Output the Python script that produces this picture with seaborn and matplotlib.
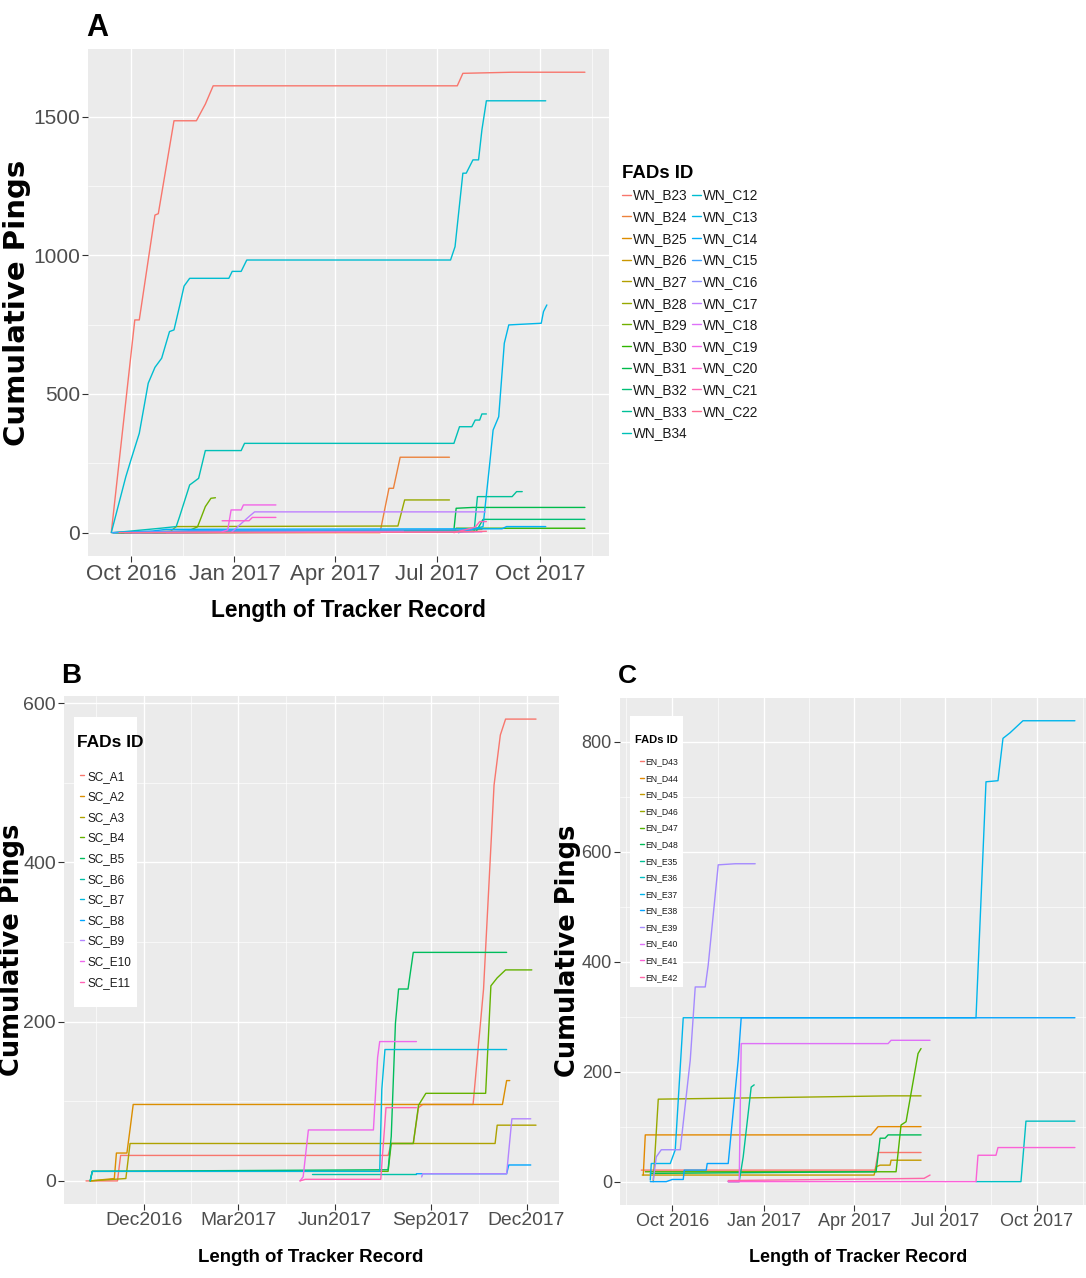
import numpy as np
import pandas as pd
import matplotlib
matplotlib.use("Agg")
import matplotlib.pyplot as plt
import matplotlib.dates as mdates
from matplotlib.ticker import MultipleLocator, FixedLocator
from matplotlib.font_manager import FontProperties
from matplotlib.lines import Line2D
from matplotlib.patches import Rectangle
import seaborn as sns

# ========== Panel A: WN FADs, (date, cumulative pings) ==========
wn_b23 = [("2016-09-13", 0), ("2016-10-04", 767), ("2016-10-08", 767), ("2016-10-22", 1145),
          ("2016-10-25", 1150), ("2016-11-08", 1485), ("2016-11-28", 1485), ("2016-12-06", 1545),
          ("2016-12-13", 1611), ("2017-07-19", 1611), ("2017-07-24", 1656), ("2017-09-06", 1660),
          ("2017-11-10", 1660)]
wn_b24 = [("2016-10-20", 0), ("2017-05-11", 0), ("2017-05-19", 160), ("2017-05-23", 160),
          ("2017-05-29", 272), ("2017-07-12", 272)]
wn_b25 = [("2016-09-14", 0), ("2016-11-01", 3), ("2017-07-12", 5)]
wn_b26 = [("2016-09-18", 0), ("2017-07-20", 8), ("2017-08-10", 12)]
wn_b27 = [("2016-10-10", 0), ("2017-06-01", 3)]
wn_b28 = [("2016-09-17", 0), ("2016-11-05", 5), ("2016-11-10", 22), ("2017-05-27", 24),
          ("2017-06-02", 118), ("2017-07-12", 118)]
wn_b29 = [("2016-09-20", 0), ("2016-11-20", 5), ("2016-11-29", 21), ("2016-12-02", 52),
          ("2016-12-06", 94), ("2016-12-11", 124), ("2016-12-15", 126)]
wn_b30 = [("2016-09-20", 0), ("2017-07-16", 2), ("2017-07-18", 16), ("2017-11-10", 16)]
wn_b31 = [("2016-09-22", 0), ("2017-07-16", 10), ("2017-07-18", 88), ("2017-08-02", 91),
          ("2017-11-10", 91)]
wn_b32 = [("2016-09-25", 0), ("2017-08-05", 5), ("2017-08-11", 48), ("2017-11-10", 48)]
wn_b33 = [("2016-09-15", 0), ("2017-08-03", 4), ("2017-08-06", 130), ("2017-09-06", 130),
          ("2017-09-10", 148), ("2017-09-15", 148)]
wn_b34 = [("2016-09-15", 0), ("2016-10-27", 16), ("2016-11-10", 22), ("2016-11-13", 58),
          ("2016-11-22", 172), ("2016-11-30", 196), ("2016-12-06", 296), ("2017-01-07", 296),
          ("2017-01-10", 322), ("2017-07-16", 322), ("2017-07-21", 382), ("2017-08-01", 382),
          ("2017-08-04", 406), ("2017-08-08", 406), ("2017-08-10", 428), ("2017-08-14", 428)]
wn_c12 = [("2016-09-13", 0), ("2016-09-26", 202), ("2016-10-01", 268), ("2016-10-08", 358),
          ("2016-10-16", 539), ("2016-10-22", 596), ("2016-10-28", 629), ("2016-11-04", 725),
          ("2016-11-08", 731), ("2016-11-13", 817), ("2016-11-17", 889), ("2016-11-22", 917),
          ("2016-12-27", 917), ("2016-12-30", 942), ("2017-01-07", 942), ("2017-01-12", 983),
          ("2017-07-13", 983), ("2017-07-17", 1031), ("2017-07-24", 1296), ("2017-07-27", 1296),
          ("2017-08-02", 1344), ("2017-08-07", 1344), ("2017-08-10", 1452), ("2017-08-14", 1557),
          ("2017-10-06", 1557)]
wn_c13 = [("2017-07-20", 0), ("2017-08-11", 22), ("2017-08-17", 250), ("2017-08-20", 370),
          ("2017-08-25", 418), ("2017-08-30", 683), ("2017-09-03", 749), ("2017-10-02", 755),
          ("2017-10-04", 797), ("2017-10-07", 821)]
wn_c14 = [("2016-09-14", 0), ("2016-10-20", 6), ("2016-11-01", 12), ("2017-08-28", 14),
          ("2017-09-01", 22), ("2017-10-06", 22)]
wn_c15 = [("2016-09-14", 0), ("2016-12-01", 8), ("2017-08-01", 10)]
wn_c16 = [("2016-10-01", 0), ("2017-06-01", 5)]
wn_c17 = [("2016-12-29", 0), ("2017-01-14", 58), ("2017-01-19", 75), ("2017-08-13", 75)]
wn_c18 = [("2016-11-01", 0), ("2017-08-10", 3)]
wn_c19 = [("2016-09-25", 0), ("2016-12-20", 2), ("2016-12-26", 10), ("2016-12-29", 82),
          ("2017-01-07", 82), ("2017-01-09", 100), ("2017-02-07", 100)]
wn_c20 = [("2016-12-21", 43), ("2017-01-14", 43), ("2017-01-17", 55), ("2017-02-07", 55)]
wn_c21 = [("2017-07-16", 0), ("2017-08-04", 20), ("2017-08-08", 40), ("2017-08-14", 40)]
wn_c22 = [("2016-09-20", 0), ("2017-07-10", 2), ("2017-08-14", 5)]

wn_ids = ["WN_B23", "WN_B24", "WN_B25", "WN_B26", "WN_B27", "WN_B28", "WN_B29", "WN_B30",
          "WN_B31", "WN_B32", "WN_B33", "WN_B34", "WN_C12", "WN_C13", "WN_C14", "WN_C15",
          "WN_C16", "WN_C17", "WN_C18", "WN_C19", "WN_C20", "WN_C21", "WN_C22"]
wn_series = [wn_b23, wn_b24, wn_b25, wn_b26, wn_b27, wn_b28, wn_b29, wn_b30, wn_b31, wn_b32,
             wn_b33, wn_b34, wn_c12, wn_c13, wn_c14, wn_c15, wn_c16, wn_c17, wn_c18, wn_c19,
             wn_c20, wn_c21, wn_c22]

# ========== Panel B: SC FADs ==========
sc_a1 = [("2016-10-07", 0), ("2016-11-06", 0), ("2016-11-09", 32), ("2017-07-22", 32),
         ("2017-07-25", 47), ("2017-08-15", 47), ("2017-08-20", 92), ("2017-08-24", 96),
         ("2017-10-11", 96), ("2017-10-21", 241), ("2017-10-31", 497), ("2017-11-06", 560),
         ("2017-11-11", 580), ("2017-12-10", 580)]
sc_a2 = [("2016-10-11", 0), ("2016-11-03", 3), ("2016-11-05", 35), ("2016-11-15", 35),
         ("2016-11-18", 65), ("2016-11-21", 96), ("2017-11-08", 96), ("2017-11-12", 126),
         ("2017-11-15", 126)]
sc_a3 = [("2016-10-11", 0), ("2016-11-14", 3), ("2016-11-18", 47), ("2017-11-01", 47),
         ("2017-11-03", 70), ("2017-12-10", 70)]
sc_b4 = [("2016-10-11", 0), ("2016-10-13", 12), ("2017-07-22", 12), ("2017-07-25", 47),
         ("2017-08-15", 47), ("2017-08-20", 95), ("2017-08-27", 110), ("2017-10-23", 110),
         ("2017-10-28", 245), ("2017-11-03", 255), ("2017-11-11", 265), ("2017-12-06", 265)]
sc_b5 = [("2016-10-11", 0), ("2016-10-13", 12), ("2017-07-22", 14), ("2017-07-25", 56),
         ("2017-07-29", 198), ("2017-08-01", 241), ("2017-08-10", 241), ("2017-08-15", 287),
         ("2017-11-12", 287)]
sc_b6 = [("2017-05-10", 9), ("2017-08-18", 9)]
sc_b7 = [("2016-10-11", 0), ("2016-10-13", 12), ("2017-07-14", 12), ("2017-07-16", 115),
         ("2017-07-19", 165), ("2017-11-12", 165)]
sc_b8 = [("2017-08-18", 9), ("2017-11-12", 9), ("2017-11-14", 20), ("2017-12-05", 20)]
sc_b9 = [("2017-08-23", 5), ("2017-08-24", 9), ("2017-11-12", 9), ("2017-11-17", 78),
         ("2017-12-05", 78)]
sc_e10 = [("2017-04-29", 0), ("2017-05-02", 5), ("2017-05-07", 64), ("2017-07-08", 64),
          ("2017-07-12", 155), ("2017-07-14", 175), ("2017-08-18", 175)]
sc_e11 = [("2017-04-29", 0), ("2017-05-04", 2), ("2017-07-15", 2), ("2017-07-20", 92),
          ("2017-08-18", 92)]

sc_ids = ["SC_A1", "SC_A2", "SC_A3", "SC_B4", "SC_B5", "SC_B6", "SC_B7", "SC_B8", "SC_B9",
          "SC_E10", "SC_E11"]
sc_series = [sc_a1, sc_a2, sc_a3, sc_b4, sc_b5, sc_b6, sc_b7, sc_b8, sc_b9, sc_e10, sc_e11]

# ========== Panel C: EN FADs ==========
en_d43 = [("2016-08-31", 21), ("2017-04-22", 21), ("2017-04-25", 53), ("2017-06-07", 53)]
en_d44 = [("2016-09-02", 12), ("2016-09-04", 85), ("2017-04-18", 85), ("2017-04-25", 100),
          ("2017-06-07", 100)]
en_d45 = [("2016-09-01", 12), ("2017-04-21", 12), ("2017-04-23", 27), ("2017-04-27", 30),
          ("2017-05-07", 30), ("2017-05-08", 39), ("2017-06-07", 39)]
en_d46 = [("2016-09-12", 0), ("2016-09-17", 150), ("2016-12-07", 152), ("2017-05-08", 156),
          ("2017-06-07", 156)]
en_d47 = [("2016-09-04", 18), ("2017-05-13", 18), ("2017-05-18", 103), ("2017-05-23", 109),
          ("2017-06-04", 233), ("2017-06-07", 242)]
en_d48 = [("2016-09-09", 15), ("2017-04-23", 18), ("2017-04-27", 79), ("2017-05-02", 79),
          ("2017-05-05", 85), ("2017-06-07", 85)]
en_e35 = [("2016-11-26", 0), ("2016-12-07", 0), ("2016-12-11", 45), ("2016-12-19", 172),
          ("2016-12-22", 176)]
en_e36 = [("2017-08-01", 0), ("2017-09-15", 0), ("2017-09-20", 110), ("2017-11-08", 110)]
en_e37 = [("2016-09-09", 3), ("2016-09-10", 33), ("2016-09-29", 33), ("2016-10-04", 58),
          ("2016-10-12", 298), ("2017-08-01", 298), ("2017-08-11", 727), ("2017-08-23", 729),
          ("2017-08-28", 806), ("2017-09-04", 816), ("2017-09-17", 838), ("2017-11-08", 838)]
en_e38 = [("2016-09-09", 0), ("2016-09-25", 0), ("2016-10-01", 4), ("2016-10-12", 4),
          ("2016-10-13", 21), ("2016-11-04", 21), ("2016-11-05", 33), ("2016-11-26", 33),
          ("2016-12-06", 221), ("2016-12-09", 298), ("2017-11-08", 298)]
en_e39 = [("2016-09-12", 3), ("2016-09-15", 45), ("2016-09-20", 58), ("2016-10-09", 58),
          ("2016-10-19", 221), ("2016-10-24", 354), ("2016-11-03", 354), ("2016-11-06", 394),
          ("2016-11-16", 576), ("2016-12-03", 578), ("2016-12-23", 578)]
en_e40 = [("2016-11-26", 0), ("2016-12-07", 0), ("2016-12-09", 251), ("2017-05-05", 251),
          ("2017-05-08", 257), ("2017-06-16", 257)]
en_e41 = [("2016-11-26", 0), ("2017-08-01", 0), ("2017-08-03", 48), ("2017-08-21", 48),
          ("2017-08-23", 62), ("2017-11-08", 62)]
en_e42 = [("2016-11-26", 2), ("2017-06-10", 6), ("2017-06-16", 12)]

en_ids = ["EN_D43", "EN_D44", "EN_D45", "EN_D46", "EN_D47", "EN_D48", "EN_E35", "EN_E36",
          "EN_E37", "EN_E38", "EN_E39", "EN_E40", "EN_E41", "EN_E42"]
en_series = [en_d43, en_d44, en_d45, en_d46, en_d47, en_d48, en_e35, en_e36, en_e37, en_e38,
             en_e39, en_e40, en_e41, en_e42]

# ========== Style ==========
sns.set_theme(style="darkgrid", rc={"axes.facecolor": "#EBEBEB", "grid.color": "white",
                                    "figure.facecolor": "white"})
SANS = "Liberation Sans"
plt.rcParams["font.family"] = [SANS, "DejaVu Sans"]


def hue_pal(n, c=100, l=65):
    """ggplot2 default discrete colour scale (HCL hues starting at 15 degrees)."""
    hues = np.linspace(15, 375, n + 1)[:-1] % 360
    xn, yn, zn = 95.047, 100.0, 108.883
    un = 4 * xn / (xn + 15 * yn + 3 * zn)
    vn = 9 * yn / (xn + 15 * yn + 3 * zn)
    out = []
    for h in hues:
        u, v = c * np.cos(np.deg2rad(h)), c * np.sin(np.deg2rad(h))
        Y = yn * ((l + 16) / 116) ** 3
        up, vp = u / (13 * l) + un, v / (13 * l) + vn
        X = Y * 9 * up / (4 * vp)
        Z = Y * (12 - 3 * up - 20 * vp) / (4 * vp)
        X, Y, Z = X / 100, Y / 100, Z / 100
        rgb = [3.2404542 * X - 1.5371385 * Y - 0.4985314 * Z,
               -0.9692660 * X + 1.8760108 * Y + 0.0415560 * Z,
               0.0556434 * X - 0.2040259 * Y + 1.0572252 * Z]
        rgb = [12.92 * t if t <= 0.0031308 else 1.055 * t ** (1 / 2.4) - 0.055 for t in rgb]
        out.append(tuple(min(max(t, 0), 1) for t in rgb))
    return out


def to_frame(ids, series):
    frames = []
    for sid, pts in zip(ids, series):
        d = pd.DataFrame(pts, columns=["date", "pings"])
        d["date"] = pd.to_datetime(d["date"])
        d["id"] = sid
        frames.append(d)
    return pd.concat(frames, ignore_index=True)


W, H = 1086, 1278
fig = plt.figure(figsize=(W / 100, H / 100), dpi=100)


def fx(x):
    return x / W


def fy(y):
    return 1 - y / H


def px_axes(l, t, r, b):
    return fig.add_axes([fx(l), fy(b), (r - l) / W, (b - t) / H])


def draw_panel(ax, ids, series, months, fmt, ystep, xt_size, yt_size):
    colors = hue_pal(len(ids))
    df = to_frame(ids, series)
    sns.lineplot(data=df, x="date", y="pings", hue="id", hue_order=ids,
                 palette=dict(zip(ids, colors)), estimator=None, linewidth=1.0,
                 legend=False, ax=ax)
    ax.xaxis.set_major_locator(mdates.MonthLocator(bymonth=months, bymonthday=1))
    ax.xaxis.set_major_formatter(mdates.DateFormatter(fmt))
    lo, hi = ax.get_xlim()
    maj = np.array([t for t in ax.get_xticks() if lo <= t <= hi])
    step = np.diff(maj)
    mids = list(maj[:-1] + step / 2) + [maj[0] - step[0] / 2, maj[-1] + step[-1] / 2]
    ax.xaxis.set_minor_locator(FixedLocator([m for m in mids if lo <= m <= hi]))
    ax.yaxis.set_major_locator(MultipleLocator(ystep))
    ax.yaxis.set_minor_locator(MultipleLocator(ystep / 2))
    ax.grid(True, which="major", color="white", linewidth=1.0)
    ax.grid(True, which="minor", color="white", linewidth=0.45)
    ax.set_axisbelow(True)
    for s in ax.spines.values():
        s.set_visible(False)
    ax.tick_params(which="major", length=4, width=0.8, color="#333333",
                   labelcolor="#4D4D4D", bottom=True, left=True)
    ax.tick_params(which="minor", length=0)
    ax.tick_params(axis="x", labelsize=xt_size, pad=2)
    ax.tick_params(axis="y", labelsize=yt_size, pad=1.5)
    return colors


def set_labels(ax, xsize, ysize, xl_y, yl_x):
    ax.set_xlabel("Length of Tracker Record", fontsize=xsize, fontweight="bold",
                  color="black", family=SANS)
    ax.xaxis.set_label_coords(0.5, xl_y)
    ax.xaxis.label.set_va("center")
    ax.set_ylabel("Cumulative Pings", fontsize=ysize, fontweight="bold", color="black",
                  family="DejaVu Sans")
    ax.yaxis.set_label_coords(yl_x, 0.5)
    ax.yaxis.label.set_va("center")


def make_legend(ids, colors, size, title_xy, title_size, anchor, box=None, **kw):
    """Legend with its title as a separate text and an optional white key box (pixels)."""
    if box is not None:
        l, t, r, b = box
        fig.add_artist(Rectangle((fx(l), fy(b)), (r - l) / W, (b - t) / H,
                                 transform=fig.transFigure, facecolor="white",
                                 edgecolor="none", zorder=4))
    fig.text(fx(title_xy[0]), fy(title_xy[1]), "FADs ID", ha="left", va="center",
             fontsize=title_size, fontweight="bold", family=SANS, color="black", zorder=6)
    handles = [Line2D([], [], color=c, linewidth=1.0) for c in colors]
    leg = fig.legend(handles, ids, loc="upper left",
                     bbox_to_anchor=(fx(anchor[0]), fy(anchor[1])),
                     bbox_transform=fig.transFigure, frameon=False, borderpad=0,
                     borderaxespad=0, prop=FontProperties(family=SANS, size=size), **kw)
    leg.set_zorder(5)
    for t in leg.get_texts():
        t.set_color("#1A1A1A")
    return leg


# ---------- Panel A ----------
axA = px_axes(87.6, 49.2, 608.6, 555.7)
colA = draw_panel(axA, wn_ids, wn_series, (1, 4, 7, 10), "%b %Y", 500, 16, 15)
set_labels(axA, 16.4, 21, -0.109, -0.135)
make_legend(wn_ids, colA, 9.8, (622, 174), 13.4, (622, 188.5), ncol=2,
            handlelength=0.66, handletextpad=0.15, columnspacing=0.3, labelspacing=0.56)

# ---------- Panel B ----------
axB = px_axes(63.5, 696, 558.5, 1204)
colB = draw_panel(axB, sc_ids, sc_series, (3, 6, 9, 12), "%b%Y", 200, 13.9, 14)
set_labels(axB, 13.4, 18.5, -0.106, -0.104)
make_legend(sc_ids, colB, 8.5, (77, 743), 12.5, (80, 770.6), box=(74, 717, 137, 1007),
            handlelength=0.36, handletextpad=0.25, labelspacing=0.73)

# ---------- Panel C ----------
axC = px_axes(619.6, 697.7, 1096.6, 1204.7)
colC = draw_panel(axC, en_ids, en_series, (1, 4, 7, 10), "%b %Y", 200, 13, 13)
set_labels(axC, 13, 18.5, -0.105, -0.109)
make_legend(en_ids, colC, 6.2, (635, 740), 8, (640, 757.3), box=(630, 716, 683, 987),
            handlelength=0.45, handletextpad=0.15, labelspacing=0.88)

# ---------- panel tags ----------
for tag, x, y, s in [("A", 97, 28, 22), ("B", 71, 676, 20), ("C", 627, 676, 19)]:
    fig.text(fx(x), fy(y), tag, ha="center", va="center", fontsize=s,
             fontweight="bold", family=SANS, color="black")

fig.savefig("out.png", dpi=100)
